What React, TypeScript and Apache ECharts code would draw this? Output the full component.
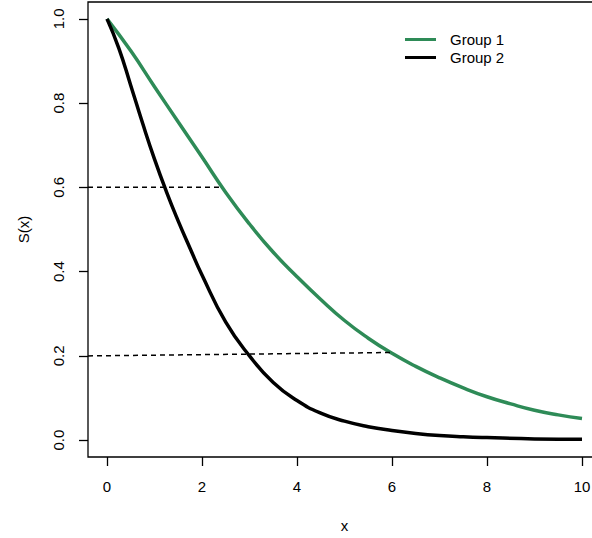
import React, { useEffect, useRef } from "react";
import * as echarts from "echarts";

const xTicks = [0, 2, 4, 6, 8, 10];
const yTicks = [0, 0.2, 0.4, 0.6, 0.8, 1.0];

const group1X = [0, 0.5, 1, 1.5, 2, 2.5, 3, 3.5, 4, 4.5, 5, 5.5, 6, 6.5, 7, 7.5, 8, 8.5, 9, 9.5, 10];
const group1S = [1.0, 0.924, 0.839, 0.755, 0.672, 0.588, 0.513, 0.446, 0.388, 0.334, 0.284, 0.242, 0.206, 0.175, 0.148, 0.124, 0.103, 0.086, 0.071, 0.06, 0.0515];

const group2X = [0, 0.25, 0.5, 0.75, 1, 1.25, 1.5, 1.75, 2, 2.5, 3, 3.5, 4, 4.5, 5, 5.5, 6, 6.5, 7, 7.5, 8, 9, 10];
const group2S = [1.0, 0.93, 0.842, 0.752, 0.667, 0.59, 0.52, 0.455, 0.392, 0.28, 0.2, 0.137, 0.094, 0.064, 0.045, 0.032, 0.023, 0.016, 0.011, 0.008, 0.006, 0.003, 0.002];

const guide1X = [-0.4, 2.42];
const guide1Y = [0.6, 0.6];
const guide2X = [-0.4, 5.96];
const guide2Y = [0.2, 0.208];

const zip = (xs: number[], ys: number[]) => xs.map((x, i) => [x, ys[i]]);

export default function App() {
  const ref = useRef<HTMLDivElement>(null);
  useEffect(() => {
    if (!ref.current) return;
    const chart = echarts.init(ref.current, undefined, { renderer: "svg" });
    const font = "Liberation Sans, Arial, sans-serif";
    chart.setOption({
      animation: false,
      backgroundColor: "#ffffff",
      grid: {
        left: 88,
        top: 2,
        width: 513,
        height: 455,
        containLabel: false,
        outerBoundsMode: "none",
        show: true,
        borderColor: "#000",
        borderWidth: 1.3,
        backgroundColor: "transparent",
      },
      legend: {
        data: ["Group 1", "Group 2"],
        orient: "vertical",
        left: 405,
        top: 32,
        padding: 0,
        itemWidth: 31,
        itemHeight: 3,
        itemGap: 3,
        icon: "rect",
        textStyle: { fontFamily: font, fontSize: 15, color: "#000", padding: [0, 0, 0, 9] },
      },
      xAxis: {
        type: "value",
        min: -0.4,
        max: 10.4,
        name: "x",
        nameLocation: "middle",
        nameGap: 61,
        nameTextStyle: { fontFamily: font, fontSize: 15, color: "#000" },
        axisLine: { show: false, onZero: false },
        splitLine: { show: false },
        axisTick: { show: true, inside: false, customValues: xTicks, length: 9, lineStyle: { color: "#000", width: 1.3 } },
        axisLabel: { customValues: xTicks, margin: 22, fontFamily: font, fontSize: 15, color: "#000" },
      },
      yAxis: {
        type: "value",
        min: -0.04,
        max: 1.04,
        name: "S(x)",
        nameLocation: "middle",
        nameGap: 57,
        nameRotate: 90,
        nameTextStyle: { fontFamily: font, fontSize: 15, color: "#000" },
        axisLine: { show: false, onZero: false },
        splitLine: { show: false },
        axisTick: { show: true, inside: false, customValues: yTicks, length: 9, lineStyle: { color: "#000", width: 1.3 } },
        axisLabel: {
          customValues: yTicks,
          rotate: 90,
          margin: 22,
          fontFamily: font,
          fontSize: 15,
          color: "#000",
          formatter: (v: number) => v.toFixed(1),
        },
      },
      series: [
        {
          name: "Group 1",
          type: "line",
          data: zip(group1X, group1S),
          smooth: 0.5,
          showSymbol: false,
          symbol: "none",
          lineStyle: { color: "#2E8B57", width: 3.5 },
          itemStyle: { color: "#2E8B57" },
        },
        {
          name: "Group 2",
          type: "line",
          data: zip(group2X, group2S),
          smooth: 0.5,
          showSymbol: false,
          symbol: "none",
          lineStyle: { color: "#000", width: 3.5 },
          itemStyle: { color: "#000" },
        },
        {
          name: "guide1",
          type: "line",
          data: zip(guide1X, guide1Y),
          symbol: "none",
          lineStyle: { color: "#000", width: 1.5, type: [5, 4] },
        },
        {
          name: "guide2",
          type: "line",
          data: zip(guide2X, guide2Y),
          symbol: "none",
          lineStyle: { color: "#000", width: 1.5, type: [5, 4] },
        },
      ],
    });
    return () => chart.dispose();
  }, []);
  return <div ref={ref} style={{ position: "fixed", left: 0, top: 0, width: 592, height: 538 }} />;
}
